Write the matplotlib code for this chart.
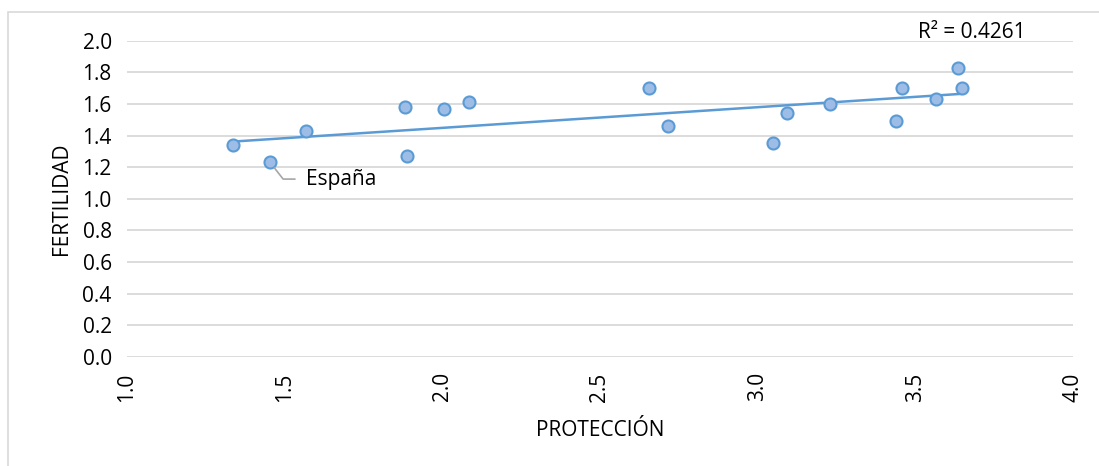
import numpy as np
import matplotlib.pyplot as plt
from matplotlib.patches import Rectangle

# data
proteccion = [1.336, 1.454, 1.568, 1.882, 1.888, 2.005, 2.085, 2.656, 2.716,
              3.049, 3.093, 3.230, 3.439, 3.458, 3.566, 3.636, 3.648]
fertilidad = [1.34, 1.23, 1.43, 1.58, 1.27, 1.57, 1.61, 1.70, 1.46,
              1.35, 1.54, 1.60, 1.49, 1.70, 1.63, 1.83, 1.70]
etiqueta = "España"
idx_espana = 1
r2_text = "R² = 0.4261"

xticks = [1.0, 1.5, 2.0, 2.5, 3.0, 3.5, 4.0]
yticks = [0.0, 0.2, 0.4, 0.6, 0.8, 1.0, 1.2, 1.4, 1.6, 1.8, 2.0]

plt.rcParams['font.family'] = ['Open Sans', 'DejaVu Sans']
fs = 15

fig = plt.figure(figsize=(10.99, 4.66), dpi=100)
fig.patches.append(Rectangle((8 / 1099, -0.1), 1.2, 1 - 12 / 466 + 0.1,
                             transform=fig.transFigure, fill=False,
                             edgecolor='#d9d9d9', linewidth=1.2))

ax = fig.add_axes([127 / 1099, 1 - 357 / 466, 946 / 1099, 316.3 / 466])
ax.set_xlim(1.0, 4.0)
ax.set_ylim(0.0, 2.0)
for s in ax.spines.values():
    s.set_visible(False)
ax.set_xticks(xticks)
ax.set_yticks(yticks)
ax.set_xticklabels([f"{v:.1f}" for v in xticks], rotation=90, fontsize=fs)
ax.set_yticklabels([f"{v:.1f}" for v in yticks], fontsize=fs)
ax.tick_params(axis='y', length=0, pad=11)
ax.tick_params(axis='x', length=0, pad=11)
ax.grid(axis='y', color='#d9d9d9', linewidth=1.3)
ax.set_axisbelow(True)

x = np.array(proteccion)
y = np.array(fertilidad)
m, b = np.polyfit(x, y, 1)
xl = np.array([x.min(), x.max()])
ax.plot(xl, m * xl + b, color='#5b9bd5', linewidth=1.8, zorder=2)

ax.scatter(x, y, s=75, facecolor='#9dbde6', edgecolor='#5b9bd5',
           linewidth=1.5, zorder=3)

ax.annotate(etiqueta, xy=(x[idx_espana], y[idx_espana]),
            xytext=(1.568, 1.125),
            fontsize=fs, va='center', ha='left',
            arrowprops=dict(arrowstyle='-', color='#a6a6a6', linewidth=1.2,
                            connectionstyle='angle,angleA=0,angleB=-52,rad=0',
                            shrinkA=6, shrinkB=5))

ax.text(0.893, 1.026, r2_text, transform=ax.transAxes, fontsize=fs,
        ha='center', va='center')

ax.set_xlabel("PROTECCIÓN", fontsize=fs)
ax.set_ylabel("FERTILIDAD", fontsize=fs)
ax.xaxis.set_label_coords(0.5, -0.198)
ax.yaxis.set_label_coords(-0.058, 0.5)

fig.savefig("out.png", dpi=100)
